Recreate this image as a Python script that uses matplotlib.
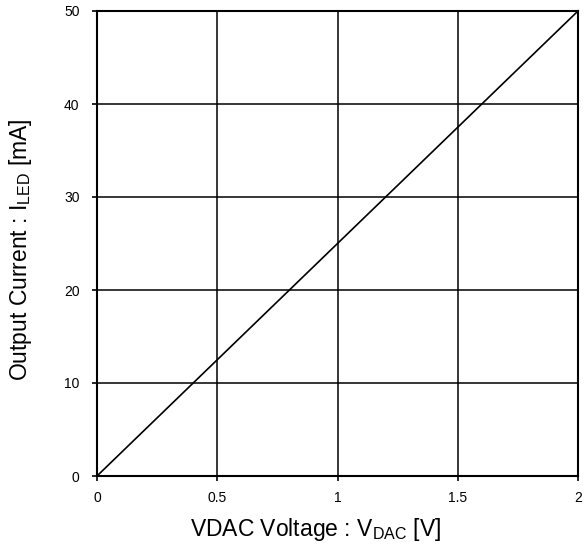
import matplotlib
matplotlib.use("Agg")
import matplotlib.pyplot as plt

vdac = [0, 2]
iled = [0, 50]
xticks = [0, 0.5, 1, 1.5, 2]
xticklabels = ["0", "0.5", "1", "1.5", "2"]
yticks = [0, 10, 20, 30, 40, 50]

plt.rcParams['font.family'] = ['Liberation Sans', 'DejaVu Sans']
plt.rcParams['mathtext.fontset'] = 'custom'
plt.rcParams['mathtext.rm'] = 'Liberation Sans'
plt.rcParams['mathtext.it'] = 'Liberation Sans'

fig = plt.figure(figsize=(5.84, 5.49), dpi=100)
ax = fig.add_axes([97/584, 73/549, 481/584, 465/549])
ax.plot(vdac, iled, color='black', lw=1.2, zorder=3)
ax.set_xlim(0, 2)
ax.set_ylim(0, 50)
ax.set_xticks(xticks)
ax.set_xticklabels(xticklabels)
ax.set_yticks(yticks)
ax.grid(True, color='black', lw=1.1)
for s in ax.spines.values():
    s.set_linewidth(1.5)
    s.set_color('black')
ax.tick_params(direction='out', length=3.6, width=1.2, labelsize=10)
ax.tick_params(axis='x', pad=7)
ax.tick_params(axis='y', pad=9)
ax.set_xlabel(r"VDAC Voltage : V$_{\mathrm{DAC}}$ [V]", fontsize=16.5, va='center')
ax.set_ylabel(r"Output Current : I$_{\mathrm{LED}}$ [mA]", fontsize=16.5, va='center')
ax.xaxis.set_label_coords(0.454, -0.116)
ax.yaxis.set_label_coords(-0.160, 0.487)
fig.savefig("out.png", dpi=100)
